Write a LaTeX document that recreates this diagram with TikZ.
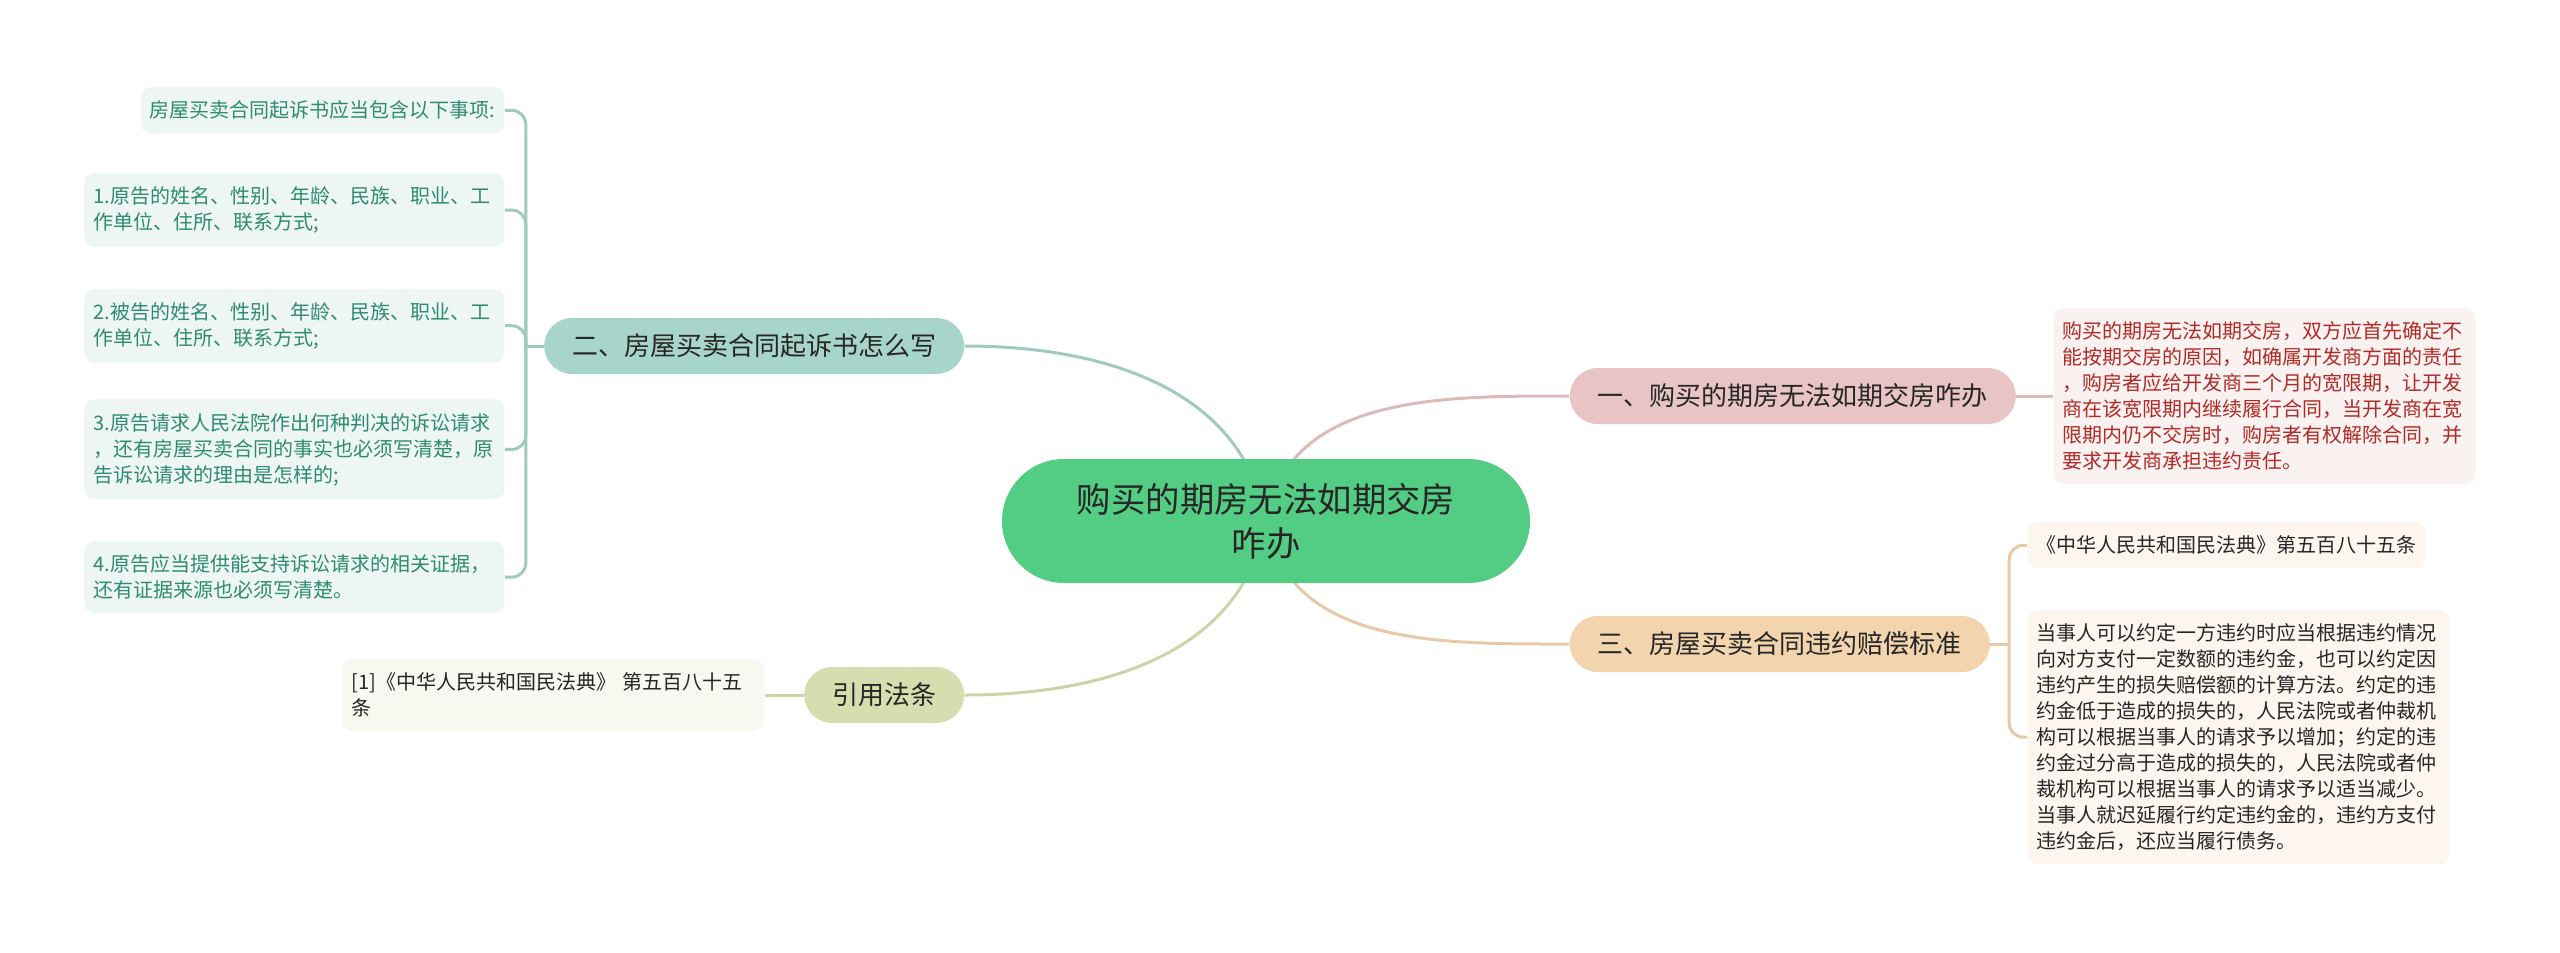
\documentclass[tikz,border=0pt]{standalone}
\usepackage{fontspec}
\setmainfont{Noto Sans CJK SC}
\usetikzlibrary{positioning}
\usetikzlibrary{backgrounds}
\definecolor{figVerde}{RGB}{83,205,131}
\definecolor{figTexto}{RGB}{38,38,38}
\definecolor{figTurquesa}{RGB}{168,213,202}
\definecolor{figTurquesaHoja}{RGB}{238,246,244}
\definecolor{figTurquesaTexto}{RGB}{46,139,110}
\definecolor{figRosa}{RGB}{232,196,196}
\definecolor{figRosaHoja}{RGB}{250,241,241}
\definecolor{figRosaTexto}{RGB}{176,42,38}
\definecolor{figArena}{RGB}{242,212,175}
\definecolor{figArenaHoja}{RGB}{253,246,238}
\definecolor{figOliva}{RGB}{216,221,176}
\definecolor{figOlivaHoja}{RGB}{247,248,240}
\tikzset{
  raiz/.style={
    rectangle, rounded corners=31pt, fill=figVerde, minimum width=264pt,
    minimum height=62pt, align=center, text=figTexto, inner sep=0pt,
    font=\fontsize{17.2}{22}\selectfont
  },
  rama/.style={
    rectangle, rounded corners=14pt, minimum height=28pt, inner xsep=14pt,
    inner ysep=0pt, text=figTexto, font=\fontsize{13}{15}\selectfont
  },
  ramat/.style={rama, fill=figTurquesa},
  ramar/.style={rama, fill=figRosa},
  ramaa/.style={rama, fill=figArena},
  ramao/.style={rama, fill=figOliva},
  hoja/.style={
    rectangle, rounded corners=5pt, inner xsep=4.5pt, inner ysep=6.8pt,
    align=left, font=\fontsize{10}{13}\selectfont
  },
  hojat/.style={hoja, fill=figTurquesaHoja, text=figTurquesaTexto},
  hojar/.style={hoja, fill=figRosaHoja, text=figRosaTexto},
  hojaa/.style={hoja, fill=figArenaHoja, text=figTexto},
  hojao/.style={hoja, fill=figOlivaHoja, text=figTexto},
  linea/.style={line width=1.5pt},
  lineat/.style={linea, draw=figTurquesa!95!black},
  linear/.style={linea, draw=figRosa!95!black},
  lineaa/.style={linea, draw=figArena!95!black},
  lineao/.style={linea, draw=figOliva!95!black}
}

\begin{document}
\begin{tikzpicture}
  \useasboundingbox (0,0) rectangle (1280pt,-476.5pt);
  \node[raiz] (centro) at (633pt,-260.5pt) {购买的期房无法如期交房\\咋办};

  % ramas
  \node[ramat, anchor=east] (dos) at ([xshift=-18.5pt,yshift=87.5pt]centro.west) {二、房屋买卖合同起诉书怎么写};
  \node[ramao, anchor=east] (ley) at ([xshift=-18.5pt,yshift=-87pt]centro.west) {引用法条};
  \node[ramar, anchor=west] (uno) at ([xshift=19.5pt,yshift=62.5pt]centro.east) {一、购买的期房无法如期交房咋办};
  \node[ramaa, anchor=west] (tres) at ([xshift=19.5pt,yshift=-61.5pt]centro.east) {三、房屋买卖合同违约赔偿标准};

  % hojas izquierda
  \node[hojat, anchor=north east] (h0) at ([xshift=-19.5pt,yshift=129.5pt]dos.west) {房屋买卖合同起诉书应当包含以下事项:};
  \node[hojat, text width=201pt, below=19.5pt of h0.south east, anchor=north east] (h1) {1.原告的姓名、性别、年龄、民族、职业、工\\作单位、住所、联系方式;};
  \node[hojat, text width=201pt, below=20.5pt of h1.south east, anchor=north east] (h2) {2.被告的姓名、性别、年龄、民族、职业、工\\作单位、住所、联系方式;};
  \node[hojat, text width=201pt, below=18pt of h2.south east, anchor=north east] (h3) {3.原告请求人民法院作出何种判决的诉讼请求\\，还有房屋买卖合同的事实也必须写清楚，原\\告诉讼请求的理由是怎样的;};
  \node[hojat, text width=201pt, below=20.5pt of h3.south east, anchor=north east] (h4) {4.原告应当提供能支持诉讼请求的相关证据，\\还有证据来源也必须写清楚。};
  \node[hojao, text width=202pt, left=19.5pt of ley] (h5) {[1]《中华人民共和国民法典》 第五百八十五\\条};

  % hojas derecha
  \node[hojar, text width=202pt, right=18.5pt of uno] (h6) {购买的期房无法如期交房，双方应首先确定不\\能按期交房的原因，如确属开发商方面的责任\\，购房者应给开发商三个月的宽限期，让开发\\商在该宽限期内继续履行合同，当开发商在宽\\限期内仍不交房时，购房者有权解除合同，并\\要求开发商承担违约责任。};
  \node[hojaa, anchor=north west] (h7) at ([xshift=18.5pt,yshift=61pt]tres.east) {《中华人民共和国民法典》第五百八十五条};
  \node[hojaa, text width=202pt, below=20.5pt of h7.south west, anchor=north west] (h8) {当事人可以约定一方违约时应当根据违约情况\\向对方支付一定数额的违约金，也可以约定因\\违约产生的损失赔偿额的计算方法。约定的违\\约金低于造成的损失的，人民法院或者仲裁机\\构可以根据当事人的请求予以增加；约定的违\\约金过分高于造成的损失的，人民法院或者仲\\裁机构可以根据当事人的请求予以适当减少。\\当事人就迟延履行约定违约金的，违约方支付\\违约金后，还应当履行债务。};

  \coordinate (jdos) at ([xshift=-9pt]dos.west);
  \coordinate (jtres) at ([xshift=9.5pt]tres.east);

  \begin{scope}[on background layer]
    \draw[lineat] (centro.center) to[out=100,in=0] (dos.east);
    \draw[lineao] (centro.center) to[out=-100,in=0] (ley.east);
    \draw[linear] (centro.center) to[out=80,in=180] (uno.west);
    \draw[lineaa] (centro.center) to[out=-80,in=180] (tres.west);
    \draw[lineat] (dos.west) -- (jdos);
    \foreach \h in {h0,h1,h2,h3,h4}
      \draw[lineat, rounded corners=7pt] (jdos) |- (\h.east);
    \draw[lineao] (ley.west) -- (h5.east);
    \draw[linear] (uno.east) -- (h6.west);
    \draw[lineaa] (tres.east) -- (jtres);
    \draw[lineaa, rounded corners=7pt] (jtres) |- (h7.west);
    \draw[lineaa, rounded corners=7pt] (jtres) |- (h8.west);
  \end{scope}
\end{tikzpicture}
\end{document}
